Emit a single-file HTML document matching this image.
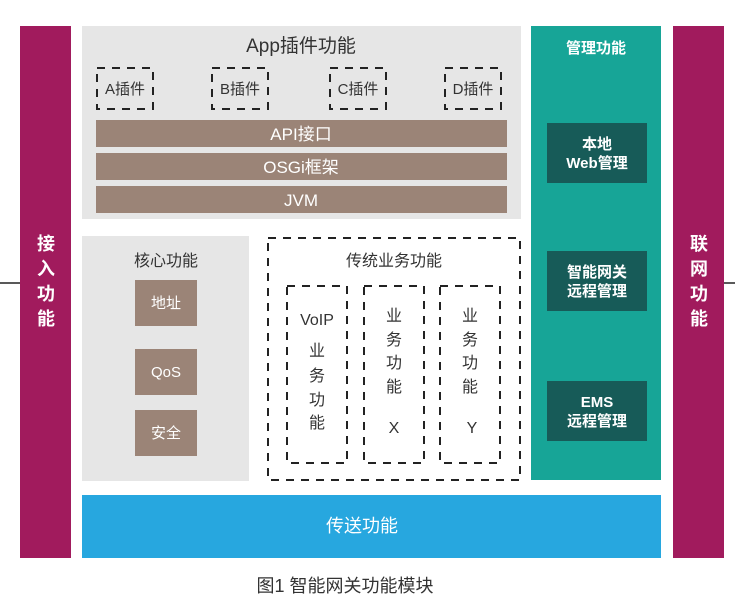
<!DOCTYPE html>
<html><head><meta charset="utf-8"><style>
html,body{margin:0;padding:0;background:#fff}
svg{display:block}
text{font-family:"Liberation Sans","Noto Sans CJK SC",sans-serif}
</style></head><body>
<svg width="735" height="605" viewBox="0 0 735 605" xmlns="http://www.w3.org/2000/svg">
<line x1="0" y1="283" x2="20" y2="283" stroke="#222" stroke-width="1.5"/>
<line x1="723" y1="283" x2="735" y2="283" stroke="#222" stroke-width="1.5"/>
<rect x="20" y="26" width="51" height="532" fill="#a11b5d"/>
<rect x="673" y="26" width="51" height="532" fill="#a11b5d"/>
<g fill="#fff" font-size="18" font-weight="bold" text-anchor="middle">
<text x="46" y="250">接</text><text x="46" y="275">入</text><text x="46" y="300">功</text><text x="46" y="325">能</text>
<text x="699" y="250">联</text><text x="699" y="275">网</text><text x="699" y="300">功</text><text x="699" y="325">能</text>
</g>
<rect x="82" y="26" width="439" height="193" fill="#e6e6e6"/>
<text x="301" y="52" font-size="19" fill="#333" text-anchor="middle">App插件功能</text>
<g fill="none" stroke="#222" stroke-width="2" stroke-dasharray="8,7">
<rect x="97" y="68" width="56" height="41"/><rect x="212" y="68" width="56" height="41"/>
<rect x="330" y="68" width="56" height="41"/><rect x="445" y="68" width="56" height="41"/>
</g>
<g font-size="15" fill="#333" text-anchor="middle">
<text x="125" y="94">A插件</text><text x="240" y="94">B插件</text><text x="358" y="94">C插件</text><text x="473" y="94">D插件</text>
</g>
<g fill="#9b8477">
<rect x="96" y="120" width="411" height="27"/><rect x="96" y="153" width="411" height="27"/><rect x="96" y="186" width="411" height="27"/>
</g>
<g fill="#fff" font-size="17" text-anchor="middle">
<text x="301" y="140">API接口</text><text x="301" y="173">OSGi框架</text><text x="301" y="206">JVM</text>
</g>
<rect x="82" y="236" width="167" height="245" fill="#e6e6e6"/>
<text x="166" y="266" font-size="16" fill="#333" text-anchor="middle">核心功能</text>
<g fill="#9b8477"><rect x="135" y="280" width="62" height="46"/><rect x="135" y="349" width="62" height="46"/><rect x="135" y="410" width="62" height="46"/></g>
<g fill="#fff" font-size="15" text-anchor="middle">
<text x="166" y="308">地址</text><text x="166" y="377">QoS</text><text x="166" y="438">安全</text>
</g>
<rect x="268" y="238" width="252" height="242" fill="none" stroke="#222" stroke-width="2" stroke-dasharray="8,7"/>
<text x="394" y="266" font-size="16" fill="#333" text-anchor="middle">传统业务功能</text>
<g fill="none" stroke="#222" stroke-width="2" stroke-dasharray="8,7">
<rect x="287" y="286" width="60" height="177"/><rect x="364" y="286" width="60" height="177"/><rect x="440" y="286" width="60" height="177"/>
</g>
<g font-size="16" fill="#333" text-anchor="middle">
<text x="317" y="325">VoIP</text>
<text x="317" y="356">业</text><text x="317" y="381">务</text><text x="317" y="405">功</text><text x="317" y="428">能</text>
<text x="394" y="321">业</text><text x="394" y="345">务</text><text x="394" y="368">功</text><text x="394" y="392">能</text><text x="394" y="433">X</text>
<text x="470" y="321">业</text><text x="470" y="345">务</text><text x="470" y="368">功</text><text x="470" y="392">能</text><text x="472" y="433">Y</text>
</g>
<rect x="531" y="26" width="130" height="454" fill="#17a597"/>
<text x="596" y="53" font-size="15" font-weight="bold" fill="#fff" text-anchor="middle">管理功能</text>
<g fill="#175b58"><rect x="547" y="123" width="100" height="60"/><rect x="547" y="251" width="100" height="60"/><rect x="547" y="381" width="100" height="60"/></g>
<g fill="#fff" font-size="15" font-weight="bold" text-anchor="middle">
<text x="597" y="149">本地</text><text x="597" y="168">Web管理</text>
<text x="597" y="277">智能网关</text><text x="597" y="296">远程管理</text>
<text x="597" y="407">EMS</text><text x="597" y="426">远程管理</text>
</g>
<rect x="82" y="495" width="579" height="63" fill="#27a7df"/>
<text x="362" y="532" font-size="18" fill="#fff" text-anchor="middle">传送功能</text>
<text x="345" y="592" font-size="18" fill="#333" text-anchor="middle">图1 智能网关功能模块</text>
</svg>
</body></html>
